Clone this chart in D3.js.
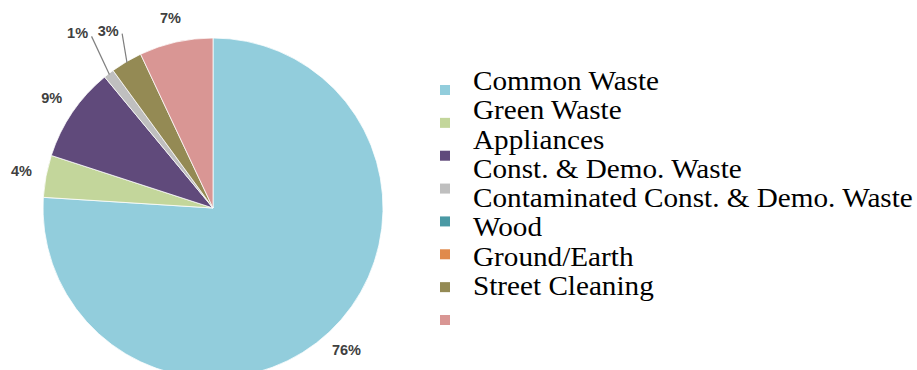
<!DOCTYPE html>
<html>
<head>
<meta charset="utf-8">
<script src="https://cdn.jsdelivr.net/npm/d3@7"></script>
<style>
  body { margin: 0; background: #fff; }
  svg { display: block; }
</style>
</head>
<body>
<div id="chart"></div>
<script>
"use strict";

// data
var categories = ["Common Waste", "Green Waste", "Appliances", "Const. & Demo. Waste",
                  "Contaminated Const. & Demo. Waste", "Wood", "Ground/Earth", "Street Cleaning"];
var values = [76, 4, 9, 1, 0, 0, 3, 7];
var sliceColors = ["#92CDDC", "#C3D69B", "#604A7B", "#BFBFBF", "#4A99A4", "#E08A4C", "#948A54", "#D99694"];

var width = 917, height = 370;
var cx = 213, cy = 208, R = 170;

var svg = d3.select("#chart").append("svg")
    .attr("width", width)
    .attr("height", height);

var data = categories.map(function(c, i) { return {name: c, value: values[i], color: sliceColors[i]}; });

var pie = d3.pie().sort(null).value(function(d) { return d.value; });
var arcs = pie(data);
var arc = d3.arc().innerRadius(0).outerRadius(R);

var g = svg.append("g").attr("transform", "translate(" + cx + "," + cy + ")");

g.selectAll("path.slice")
    .data(arcs.filter(function(d) { return d.data.value > 0; }))
  .enter().append("path")
    .attr("class", "slice")
    .attr("d", arc)
    .attr("fill", function(d) { return d.data.color; })
    .attr("stroke", "#fff")
    .attr("stroke-width", 0.75);

// percent labels, small slices pushed out with a leader line
function extra(v) { return v <= 1 ? 26 : (v <= 3 ? 11 : 0); }
function midAngle(d) { return (d.startAngle + d.endAngle) / 2; }

var labelled = arcs.filter(function(d) { return d.data.value > 0; });
labelled.forEach(function(d) {
  var a = midAngle(d);
  var r = R + 25 + extra(d.data.value);
  d.lx = Math.sin(a) * r;
  d.ly = -Math.cos(a) * r;
});

g.selectAll("polyline.leader")
    .data(labelled.filter(function(d) { return extra(d.data.value) > 0; }))
  .enter().append("polyline")
    .attr("class", "leader")
    .attr("fill", "none")
    .attr("stroke", "#7f7f7f")
    .attr("stroke-width", 1.2)
    .attr("points", function(d) {
      var a = midAngle(d);
      var p0 = [Math.sin(a) * (R - 1), -Math.cos(a) * (R - 1)];
      var p1 = [d.lx + 14, d.ly + 3];
      return [p0, p1].map(function(p) { return p.join(","); }).join(" ");
    });

g.selectAll("text.pct")
    .data(labelled)
  .enter().append("text")
    .attr("class", "pct")
    .attr("x", function(d) { return d.lx; })
    .attr("y", function(d) { return d.ly; })
    .attr("text-anchor", "middle")
    .attr("dominant-baseline", "central")
    .style("font-family", "'Liberation Sans', Arial, sans-serif")
    .style("font-weight", "bold")
    .style("font-size", "14.5px")
    .style("fill", "#404040")
    .text(function(d) { return d.data.value + "%"; });

// legend: swatches and text sit on different spacings, as in the picture
var swatchY = d3.scalePoint().domain(categories).range([90, 320]);
var textY = d3.scalePoint().domain(categories).range([90, 295]);

var legend = svg.append("g").attr("class", "legend");

legend.selectAll("rect")
    .data(data)
  .enter().append("rect")
    .attr("x", 440)
    .attr("y", function(d) { return swatchY(d.name) - 5; })
    .attr("width", 10)
    .attr("height", 10)
    .attr("fill", function(d) { return d.color; });

var txt = legend.append("g");
txt.selectAll("text")
    .data(data)
  .enter().append("text")
    .attr("x", 0)
    .attr("y", function(d) { return textY(d.name); })
    .style("font-family", "'Liberation Serif', 'Times New Roman', serif")
    .style("font-size", "27px")
    .style("fill", "#000")
    .text(function(d) { return d.name; });

// stretch the text block so the longest label spans the same width as the picture
var longest = d3.max(txt.selectAll("text").nodes(), function(n) { return n.getComputedTextLength(); });
var sx = 440 / longest;
txt.attr("transform", "translate(473,0) scale(" + sx + ",1)");
</script>
</body>
</html>
